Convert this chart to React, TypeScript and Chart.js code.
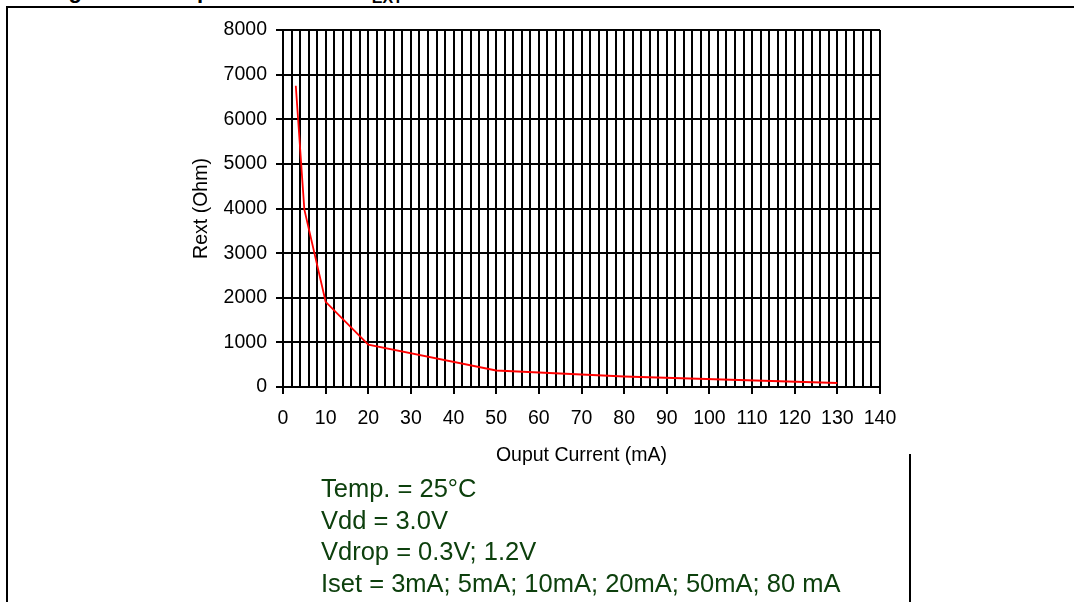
import React, { useEffect, useRef } from "react";
import { Chart, registerables } from "chart.js";

Chart.register(...registerables);

// ---- data ----
const currentMA = [3, 5, 10, 20, 50, 80, 130];
const rextOhm = [6750, 3980, 1910, 950, 370, 235, 90];

const xMinMA = 0;
const xMaxMA = 140;
const xGridStepMA = 2;
const xLabelStepMA = 10;
const yMinOhm = 0;
const yMaxOhm = 8000;
const yStepOhm = 1000;

const xAxisTitle = "Ouput Current (mA)";
const yAxisTitle = "Rext (Ohm)";
const conditionLines = [
  "Temp. = 25°C",
  "Vdd = 3.0V",
  "Vdrop = 0.3V; 1.2V",
  "Iset = 3mA; 5mA; 10mA; 20mA; 50mA; 80 mA",
];
const figureTitle = "Figure 10. Output current vs. R";
const figureTitleSub = "EXT";

const FONT = "Arial, 'Liberation Sans', sans-serif";
const AXIS_FONT_SIZE = 19.5;

export default function App() {
  const canvasRef = useRef<HTMLCanvasElement | null>(null);

  useEffect(() => {
    document.body.style.margin = "0";
    const canvas = canvasRef.current;
    if (!canvas) return;
    const points = currentMA.map((x, i) => ({ x, y: rextOhm[i] }));
    const chart = new Chart(canvas, {
      type: "scatter",
      data: {
        datasets: [
          {
            data: points,
            showLine: true,
            borderColor: "#ff0000",
            backgroundColor: "#ff0000",
            borderWidth: 1.8,
            pointRadius: 0,
            tension: 0,
          },
        ],
      },
      options: {
        animation: false,
        responsive: false,
        devicePixelRatio: 1,
        layout: { padding: { left: 190, right: 194, top: 30, bottom: 135 } },
        plugins: { legend: { display: false }, tooltip: { enabled: false } },
        scales: {
          x: {
            type: "linear",
            min: xMinMA,
            max: xMaxMA,
            afterFit: (s: any) => {
              s.height = 80;
            },
            ticks: {
              stepSize: xGridStepMA,
              autoSkip: false,
              maxRotation: 0,
              padding: 13,
              color: "#000",
              font: { family: FONT, size: AXIS_FONT_SIZE },
              callback: (v: any) => (Number(v) % xLabelStepMA === 0 ? String(v) : ""),
            },
            grid: {
              color: "#000",
              lineWidth: 2,
              tickLength: 7,
              tickColor: (ctx: any) =>
                ctx.tick && ctx.tick.value % xLabelStepMA === 0 ? "#000" : "rgba(0,0,0,0)",
            },
            border: { color: "#000", width: 2 },
            title: {
              display: true,
              text: xAxisTitle,
              color: "#000",
              padding: 0,
              font: { family: FONT, size: AXIS_FONT_SIZE },
            },
          },
          y: {
            type: "linear",
            min: yMinOhm,
            max: yMaxOhm,
            afterFit: (s: any) => {
              s.width = 93;
            },
            ticks: {
              stepSize: yStepOhm,
              padding: 9,
              color: "#000",
              font: { family: FONT, size: AXIS_FONT_SIZE },
              callback: (v: any) => String(v),
            },
            grid: { color: "#000", lineWidth: 2, tickLength: 7 },
            border: { color: "#000", width: 2 },
            title: {
              display: true,
              text: yAxisTitle,
              color: "#000",
              padding: 0,
              font: { family: FONT, size: AXIS_FONT_SIZE },
            },
          },
        },
      },
    });
    return () => chart.destroy();
  }, []);

  return (
    <div
      style={{
        position: "relative",
        width: 1074,
        height: 602,
        overflow: "hidden",
        background: "#fff",
        fontFamily: FONT,
      }}
    >
      <div
        style={{
          position: "absolute",
          left: 49,
          top: -19.6,
          fontSize: 22,
          lineHeight: "22px",
          fontWeight: "bold",
          whiteSpace: "nowrap",
          color: "#000",
        }}
      >
        {figureTitle}
        <sub style={{ fontSize: 16 }}>{figureTitleSub}</sub>
      </div>
      <div style={{ position: "absolute", left: 6, top: 6, width: 1068, height: 2, background: "#000" }} />
      <div style={{ position: "absolute", left: 6, top: 6, width: 2, height: 596, background: "#000" }} />
      <div style={{ position: "absolute", left: 909, top: 454, width: 2, height: 148, background: "#000" }} />
      <canvas
        ref={canvasRef}
        width={1074}
        height={602}
        style={{ position: "absolute", left: 0, top: 0, width: 1074, height: 602 }}
      />
      <div
        style={{
          position: "absolute",
          left: 321,
          top: 473,
          fontSize: 25.5,
          lineHeight: "31.5px",
          color: "#0d400d",
          whiteSpace: "nowrap",
        }}
      >
        {conditionLines.map((line, i) => (
          <div key={i}>{line}</div>
        ))}
      </div>
    </div>
  );
}
